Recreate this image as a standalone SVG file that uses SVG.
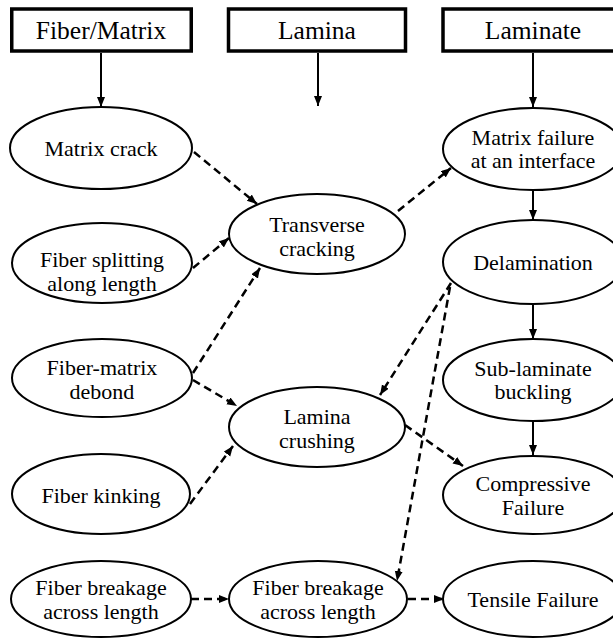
<svg xmlns="http://www.w3.org/2000/svg" width="613" height="639" viewBox="0 0 613 639">
<defs>
<marker id="ah" markerUnits="userSpaceOnUse" markerWidth="11" markerHeight="9" refX="10" refY="4" orient="auto">
<path d="M0,0 L10,4 L0,8 z" fill="#000"/>
</marker>
</defs>
<rect width="613" height="639" fill="#fff"/>
<g id="connectors" stroke="#000" fill="none" marker-end="url(#ah)">
<g stroke-width="2">
<line x1="101" y1="53" x2="101" y2="107"/>
<line x1="318" y1="53" x2="318" y2="106"/>
<line x1="533" y1="53" x2="533" y2="107"/>
<line x1="533" y1="190" x2="533" y2="220"/>
<line x1="533" y1="304" x2="533" y2="339"/>
<line x1="533" y1="421" x2="533" y2="455"/>
</g>
<g stroke-width="2.5" stroke-dasharray="8 5">
<line x1="194" y1="152" x2="257" y2="204"/>
<line x1="193" y1="268" x2="229" y2="238"/>
<line x1="193" y1="373" x2="260" y2="268"/>
<line x1="193" y1="380" x2="237" y2="406"/>
<line x1="190" y1="504" x2="233" y2="446"/>
<line x1="398" y1="211" x2="451" y2="168"/>
<line x1="451" y1="283" x2="380" y2="395"/>
<line x1="450" y1="287" x2="397" y2="581"/>
<line x1="405" y1="425" x2="463" y2="466"/>
<line x1="191" y1="599" x2="229" y2="599"/>
<line x1="408" y1="599" x2="444" y2="599"/>
</g>
</g>
<g id="headers" fill="#fff" stroke="#000" stroke-width="3.5">
<g id="h-fiber-matrix"><rect x="11.75" y="9" width="179.5" height="42"/><text x="101" y="39" font-family="Liberation Serif" font-size="25.5" text-anchor="middle" fill="#000" stroke="none">Fiber/Matrix</text></g>
<g id="h-lamina"><rect x="228.5" y="9" width="177" height="42"/><text x="317" y="39" font-family="Liberation Serif" font-size="25.5" text-anchor="middle" fill="#000" stroke="none">Lamina</text></g>
<g id="h-laminate"><rect x="443" y="9" width="172" height="42"/><text x="533" y="39" font-family="Liberation Serif" font-size="25.5" text-anchor="middle" fill="#000" stroke="none">Laminate</text></g>
</g>
<g id="nodes" fill="#fff" stroke="#000" stroke-width="2">
<g id="n-matrix-crack"><ellipse cx="101" cy="148" rx="91" ry="41"/><text x="101" y="156" font-family="Liberation Serif" font-size="22" text-anchor="middle" fill="#000" stroke="none">Matrix crack</text></g>
<g id="n-fiber-splitting"><ellipse cx="102" cy="263" rx="90" ry="40"/><text x="102" y="267" font-family="Liberation Serif" font-size="22" text-anchor="middle" fill="#000" stroke="none">Fiber splitting</text><text x="102" y="291" font-family="Liberation Serif" font-size="22" text-anchor="middle" fill="#000" stroke="none">along length</text></g>
<g id="n-debond"><ellipse cx="102" cy="378" rx="90" ry="39"/><text x="102" y="375" font-family="Liberation Serif" font-size="22" text-anchor="middle" fill="#000" stroke="none">Fiber-matrix</text><text x="102" y="399" font-family="Liberation Serif" font-size="22" text-anchor="middle" fill="#000" stroke="none">debond</text></g>
<g id="n-kinking"><ellipse cx="101" cy="494" rx="89" ry="40"/><text x="101" y="503" font-family="Liberation Serif" font-size="22" text-anchor="middle" fill="#000" stroke="none">Fiber kinking</text></g>
<g id="n-breakage1"><ellipse cx="101" cy="599" rx="90" ry="38"/><text x="101" y="595" font-family="Liberation Serif" font-size="22" text-anchor="middle" fill="#000" stroke="none">Fiber breakage</text><text x="101" y="619" font-family="Liberation Serif" font-size="22" text-anchor="middle" fill="#000" stroke="none">across length</text></g>
<g id="n-transverse"><ellipse cx="317" cy="234" rx="88" ry="40"/><text x="317" y="232" font-family="Liberation Serif" font-size="22" text-anchor="middle" fill="#000" stroke="none">Transverse</text><text x="317" y="256" font-family="Liberation Serif" font-size="22" text-anchor="middle" fill="#000" stroke="none">cracking</text></g>
<g id="n-lamina-crushing"><ellipse cx="317" cy="427" rx="88" ry="40"/><text x="317" y="424" font-family="Liberation Serif" font-size="22" text-anchor="middle" fill="#000" stroke="none">Lamina</text><text x="317" y="448" font-family="Liberation Serif" font-size="22" text-anchor="middle" fill="#000" stroke="none">crushing</text></g>
<g id="n-breakage2"><ellipse cx="318" cy="599" rx="89" ry="38"/><text x="318" y="595" font-family="Liberation Serif" font-size="22" text-anchor="middle" fill="#000" stroke="none">Fiber breakage</text><text x="318" y="619" font-family="Liberation Serif" font-size="22" text-anchor="middle" fill="#000" stroke="none">across length</text></g>
<g id="n-matrix-failure"><ellipse cx="533" cy="149" rx="90" ry="41"/><text x="533" y="145" font-family="Liberation Serif" font-size="22" text-anchor="middle" fill="#000" stroke="none">Matrix failure</text><text x="533" y="168" font-family="Liberation Serif" font-size="22" text-anchor="middle" fill="#000" stroke="none">at an interface</text></g>
<g id="n-delamination"><ellipse cx="533" cy="262" rx="90" ry="42"/><text x="533" y="270" font-family="Liberation Serif" font-size="22" text-anchor="middle" fill="#000" stroke="none">Delamination</text></g>
<g id="n-sublaminate"><ellipse cx="533" cy="380" rx="90" ry="41"/><text x="533" y="376" font-family="Liberation Serif" font-size="22" text-anchor="middle" fill="#000" stroke="none">Sub-laminate</text><text x="533" y="399" font-family="Liberation Serif" font-size="22" text-anchor="middle" fill="#000" stroke="none">buckling</text></g>
<g id="n-compressive"><ellipse cx="533" cy="495" rx="90" ry="39"/><text x="533" y="491" font-family="Liberation Serif" font-size="22" text-anchor="middle" fill="#000" stroke="none">Compressive</text><text x="533" y="515" font-family="Liberation Serif" font-size="22" text-anchor="middle" fill="#000" stroke="none">Failure</text></g>
<g id="n-tensile"><ellipse cx="533" cy="599" rx="90" ry="38"/><text x="533" y="607" font-family="Liberation Serif" font-size="22" text-anchor="middle" fill="#000" stroke="none">Tensile Failure</text></g>
</g>
</svg>
